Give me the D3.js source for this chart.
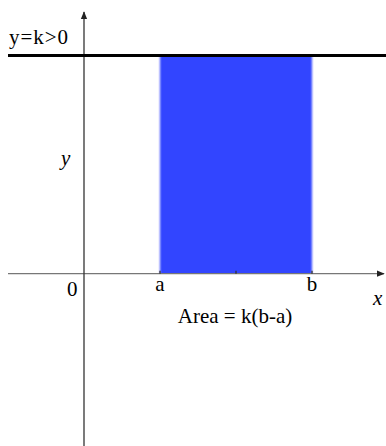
<!DOCTYPE html>
<html><head><meta charset="utf-8">
<script src="https://cdn.jsdelivr.net/npm/d3@7"></script>
<style>body{margin:0;background:#fff}svg{display:block}text{font-family:"Liberation Serif","Times New Roman",serif;font-size:21px;fill:#000}</style>
</head><body><div id="c"></div>
<script>
const xDomain = [-2, 8];
const yDomain = [-2.37, 3.6];
const a = 2, b = 6, k = 3;
const tickValues = [2, 4, 6];
const tickLabels = [{v: 2, t: "a"}, {v: 6, t: "b"}];

const W = 386, H = 446;
const x = d3.scaleLinear().domain(xDomain).range([8, 388]);
const y = d3.scaleLinear().domain(yDomain).range([446, 12]);

const svg = d3.select("#c").append("svg").attr("width", W).attr("height", H);
const defs = svg.append("defs");
defs.append("marker").attr("id", "arr").attr("viewBox", "0 0 10 10").attr("refX", 9).attr("refY", 5)
  .attr("markerWidth", 6).attr("markerHeight", 6).attr("orient", "auto")
  .append("path").attr("d", "M0,1 L10,5 L0,9 Z").attr("fill", "#222");
const f = defs.append("filter").attr("id", "soft").attr("x", "-5%").attr("width", "110%");
f.append("feGaussianBlur").attr("stdDeviation", "0.8 0");

// area rectangle
svg.append("rect")
  .attr("x", x(a)).attr("y", y(k))
  .attr("width", x(b) - x(a)).attr("height", y(0) - y(k))
  .attr("fill", "#3344ff").attr("filter", "url(#soft)");

// x axis
svg.append("line").attr("x1", x(xDomain[0])).attr("x2", 384).attr("y1", y(0)).attr("y2", y(0))
  .attr("stroke", "#777").attr("stroke-width", 1.3).attr("marker-end", "url(#arr)");
svg.selectAll(".tk").data(tickValues).join("line")
  .attr("x1", d => x(d)).attr("x2", d => x(d)).attr("y1", y(0) - 3).attr("y2", y(0))
  .attr("stroke", "#333").attr("stroke-width", 1.3);

// y axis
svg.append("line").attr("x1", x(0)).attr("x2", x(0)).attr("y1", H).attr("y2", 12)
  .attr("stroke", "#333").attr("stroke-width", 1.3).attr("marker-end", "url(#arr)");

// y = k line
svg.append("line").attr("x1", x(xDomain[0])).attr("x2", W).attr("y1", y(k)).attr("y2", y(k))
  .attr("stroke", "#000").attr("stroke-width", 3);

// labels
svg.append("text").attr("x", 9).attr("y", 44).attr("textLength", 59).text("y=k>0");
svg.append("text").attr("x", 61).attr("y", 165).attr("font-style", "italic").text("y");
svg.append("text").attr("x", 67).attr("y", 296).text("0");
svg.selectAll(".tl").data(tickLabels).join("text")
  .attr("x", d => x(d.v)).attr("y", 291).attr("text-anchor", "middle").text(d => d.t);
svg.append("text").attr("x", 373).attr("y", 305).attr("font-style", "italic").text("x");
svg.append("text").attr("x", 235).attr("y", 323).attr("text-anchor", "middle").text("Area = k(b-a)");
</script></body></html>
